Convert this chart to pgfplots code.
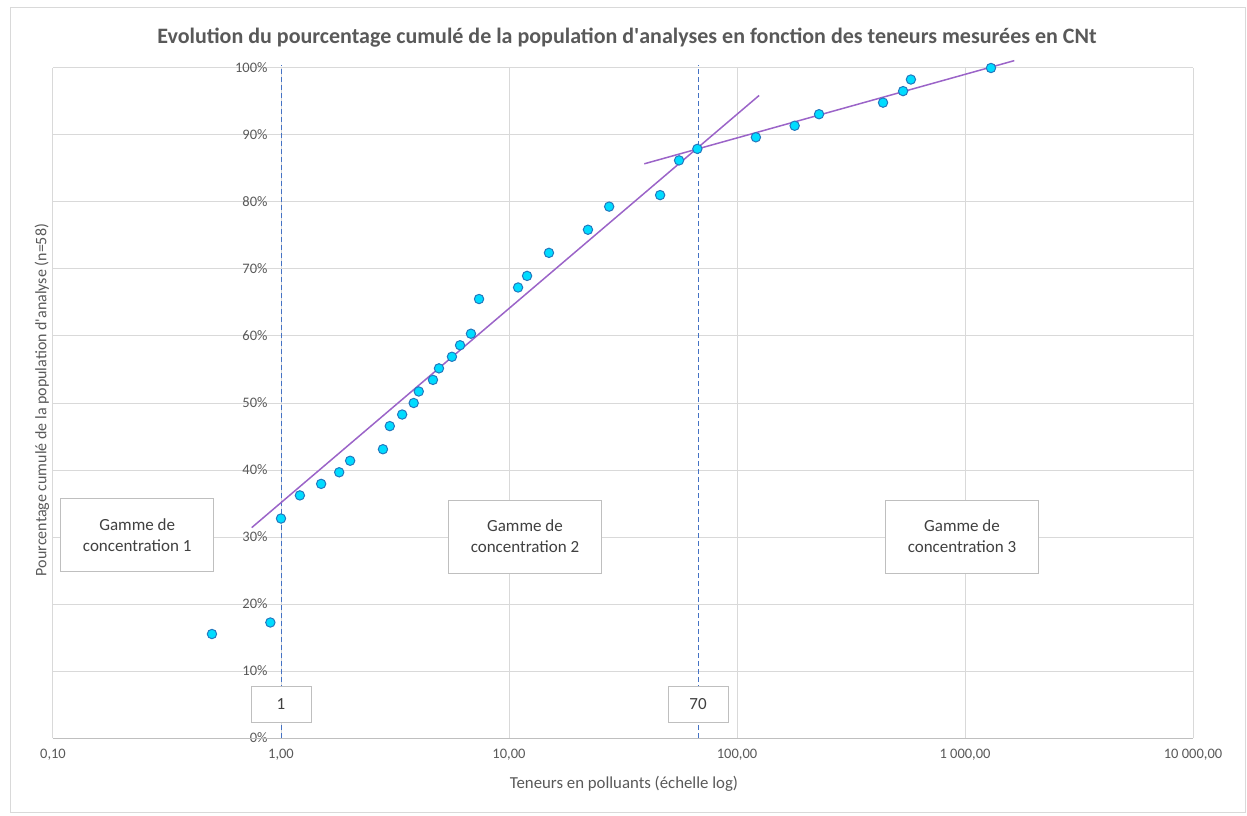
\documentclass[border=0pt]{standalone}
\usepackage{pgfplots}
\pgfplotsset{compat=1.18}
\usepackage{pgfplotstable}
\usepackage{fontspec}
\setmainfont{Carlito}
\definecolor{txt}{RGB}{89,89,89}
\definecolor{boxtxt}{RGB}{64,64,64}
\definecolor{gridc}{RGB}{217,217,217}
\definecolor{axl}{RGB}{191,191,191}
\definecolor{mfill}{RGB}{0,220,255}
\definecolor{medge}{RGB}{35,120,190}
\definecolor{trend}{RGB}{155,100,200}
\definecolor{dashc}{RGB}{68,114,196}

\tikzset{
  gbox/.style={draw=axl, fill=white, minimum width=153pt, minimum height=73pt, align=center, inner sep=0pt, font=\fontsize{17}{21}\selectfont, text=boxtxt},
  sbox/.style={draw=axl, fill=white, minimum width=60pt, minimum height=36pt, align=center, inner sep=0pt, font=\fontsize{17}{21}\selectfont, text=boxtxt},
}

\pgfplotstableread{
x y
0.498 15.52
0.898 17.24
1.00 32.76
1.21 36.21
1.50 37.93
1.80 39.66
2.01 41.38
2.80 43.10
3.00 46.55
3.40 48.28
3.82 50.00
4.02 51.72
4.64 53.45
4.93 55.17
5.62 56.90
6.10 58.62
6.81 60.34
7.39 65.52
10.96 67.24
12.0 68.97
14.97 72.41
22.2 75.86
27.5 79.31
46.0 81.03
55.7 86.21
67.0 87.93
121 89.66
179 91.38
229 93.10
437 94.83
535 96.55
579 98.28
1300 100.00
}\pts

\begin{document}
\begin{tikzpicture}[x=1pt,y=1pt]
\useasboundingbox (0,0) rectangle (1247,815);
\draw[gridc, line width=1pt] (10,3) rectangle (1245,807);
\node[font=\bfseries\fontsize{22}{26}\selectfont, text=txt] at (627,777) {Evolution du pourcentage cumulé de la population d\textquotesingle analyses en fonction des teneurs mesurées en CNt};
\node[rotate=90, font=\fontsize{16}{20}\selectfont, text=txt] at (42,415) {Pourcentage cumulé de la population d\textquotesingle analyse (n=58)};
\node[font=\fontsize{16.8}{20}\selectfont, text=txt] at (624,31) {Teneurs en polluants (échelle log)};
\begin{axis}[
  at={(53pt,77pt)}, anchor=south west, scale only axis,
  width=1140pt, height=670pt,
  xmode=log, xmin=0.1, xmax=10000, ymin=0, ymax=100,
  xtick={0.1,1,10,100,1000,10000},
  xticklabels={{0,10},{1,00},{10,00},{100,00},{1 000,00},{10 000,00}},
  minor xtick={},
  ytick={0,10,20,30,40,50,60,70,80,90,100},
  yticklabels={0\%,10\%,20\%,30\%,40\%,50\%,60\%,70\%,80\%,90\%,100\%},
  grid=major, major grid style={draw=gridc, line width=1pt},
  axis line style={draw=none}, tick style={draw=none},
  xticklabel style={font=\fontsize{14.5}{16}\selectfont, text=txt, yshift=-8pt},
  yticklabel style={font=\fontsize{14.5}{16}\selectfont, text=txt, xshift=218pt},
  clip=false,
]
\draw[axl, line width=1pt] (axis cs:0.1,0) -- (axis cs:10000,0);
\addplot[draw=dashc, dash pattern=on 5pt off 3pt, line width=1pt] coordinates {(1,0) (1,100.5)};
\addplot[draw=dashc, dash pattern=on 5pt off 3pt, line width=1pt] coordinates {(67.5,0) (67.5,100.5)};
\addplot[draw=trend, line width=1.5pt] coordinates {(0.744,31.4) (125,95.9)};
\addplot[draw=trend, line width=1.5pt] coordinates {(39.2,85.7) (1645,101.1)};
\addplot[only marks, mark=*, mark size=4.7pt, mark options={fill=mfill, draw=medge, line width=1pt}] table {\pts};
\node[gbox] at (axis cs:0.234,30.3) {Gamme de\\concentration 1};
\node[gbox] at (axis cs:11.75,30.1) {Gamme de\\concentration 2};
\node[gbox] at (axis cs:970,30.1) {Gamme de\\concentration 3};
\node[sbox] at (axis cs:1,5.1) {1};
\node[sbox] at (axis cs:67.5,5.1) {70};
\end{axis}
\end{tikzpicture}
\end{document}
